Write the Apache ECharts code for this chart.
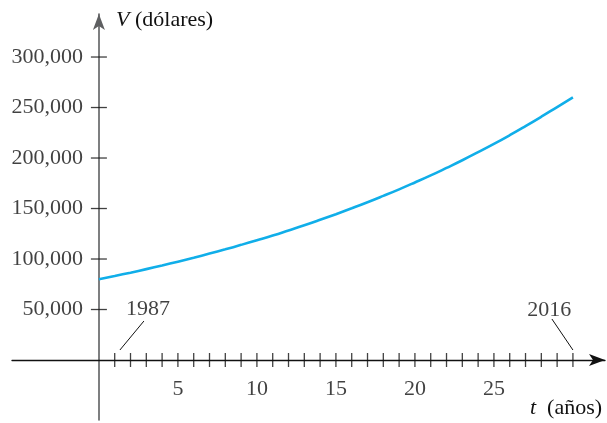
<!DOCTYPE html>
<html>
<head>
<meta charset="utf-8">
<script src="https://cdn.jsdelivr.net/npm/echarts@6/dist/echarts.min.js"></script>
<style>
  html, body { margin: 0; padding: 0; background: #fff; }
  #chart { width: 607px; height: 423px; }
</style>
</head>
<body>
<div id="chart"></div>
<script>
// years since 1986 (t) and value in dollars
var years = [0, 1, 2, 3, 4, 5, 6, 7, 8, 9, 10, 11, 12, 13, 14, 15,
             16, 17, 18, 19, 20, 21, 22, 23, 24, 25, 26, 27, 28, 29, 30];
var values = [80000, 83200, 86500, 90000, 93600, 97400, 101300, 105400, 109600, 114000,
              118600, 123300, 128300, 133400, 138800, 144400, 150200, 156200, 162500,
              169000, 175800, 182800, 190200, 197800, 205800, 214000, 222600, 231600,
              240900, 250500, 260000];

var xTicks = [1, 2, 3, 4, 5, 6, 7, 8, 9, 10, 11, 12, 13, 14, 15,
              16, 17, 18, 19, 20, 21, 22, 23, 24, 25, 26, 27, 28, 29, 30];
var xTickLabels = [5, 10, 15, 20, 25];
var yTicks = [50000, 100000, 150000, 200000, 250000, 300000];

var yearNotes = [
    {name: '1987', pos: [3.1, 50500], from: [1.33, 9900], to: [2.85, 38600]},
    {name: '2016', pos: [28.5, 49500], from: [28.67, 40600], to: [30, 9900]}
];

var serif = '"Liberation Serif", "DejaVu Serif", serif';
var ink = '#111';

var myChart = echarts.init(document.getElementById('chart'));

var option = {
    animation: false,
    grid: {left: 12, right: 2, top: 14, bottom: 3},
    xAxis: {
        type: 'value',
        min: -5.5,
        max: 32.03,
        splitLine: {show: false},
        axisTick: {show: false},
        axisLabel: {show: false},
        axisLine: {
            onZero: true,
            symbol: ['none', 'arrow'],
            symbolSize: [9, 16],
            lineStyle: {color: ink, width: 1.3}
        }
    },
    yAxis: {
        type: 'value',
        min: -59400,
        max: 342600,
        splitLine: {show: false},
        axisTick: {show: false},
        axisLabel: {show: false},
        axisLine: {
            onZero: true,
            symbol: ['none', 'arrow'],
            symbolSize: [9, 16],
            lineStyle: {color: '#5e5f61', width: 1.6}
        }
    },
    series: [
        {
            name: 'V',
            type: 'line',
            smooth: true,
            symbol: 'none',
            lineStyle: {color: '#10aee9', width: 2.6},
            data: years.map(function (t, i) { return [t, values[i]]; }),
            z: 5
        },
        {
            name: 'xTicks',
            type: 'scatter',
            symbol: 'rect',
            symbolSize: [1.3, 14],
            itemStyle: {color: ink},
            data: xTicks.map(function (t) { return [t, 0]; }),
            silent: true
        },
        {
            name: 'xLabels',
            type: 'scatter',
            symbolSize: 0,
            data: xTickLabels.map(function (t) { return [t, 0]; }),
            label: {
                show: true,
                position: 'bottom',
                distance: 18,
                formatter: function (p) { return p.value[0]; },
                fontFamily: serif,
                fontSize: 22,
                color: ink
            },
            silent: true
        },
        {
            name: 'yTicks',
            type: 'scatter',
            symbol: 'rect',
            symbolSize: [16, 1.3],
            itemStyle: {color: ink},
            data: yTicks.map(function (v) { return [0, v]; }),
            label: {
                show: true,
                position: 'left',
                distance: 8,
                formatter: function (p) { return echarts.format.addCommas(p.value[1]); },
                fontFamily: serif,
                fontSize: 22,
                color: ink
            },
            silent: true
        },
        {
            name: 'years',
            type: 'scatter',
            symbolSize: 0,
            data: yearNotes.map(function (d) { return {name: d.name, value: d.pos}; }),
            label: {
                show: true,
                position: 'inside',
                formatter: '{b}',
                fontFamily: serif,
                fontSize: 22,
                color: ink
            },
            markLine: {
                silent: true,
                symbol: ['none', 'none'],
                label: {show: false},
                lineStyle: {color: ink, width: 1, type: 'solid'},
                data: yearNotes.map(function (d) {
                    return [{coord: d.from}, {coord: d.to}];
                })
            },
            silent: true
        }
    ],
    graphic: [
        {
            type: 'text',
            left: 116,
            top: 9,
            style: {
                text: '{i|V} (dólares)',
                fontFamily: serif,
                fontSize: 22,
                fill: ink,
                rich: {i: {fontStyle: 'italic', fontFamily: serif, fontSize: 22, fill: ink}}
            }
        },
        {
            type: 'text',
            left: 530,
            top: 397,
            style: {
                text: '{i|t}  (años)',
                fontFamily: serif,
                fontSize: 22,
                fill: ink,
                rich: {i: {fontStyle: 'italic', fontFamily: serif, fontSize: 22, fill: ink}}
            }
        }
    ]
};

myChart.setOption(option);
window.addEventListener('resize', function () {
    myChart.resize();
});
</script>
</body>
</html>
